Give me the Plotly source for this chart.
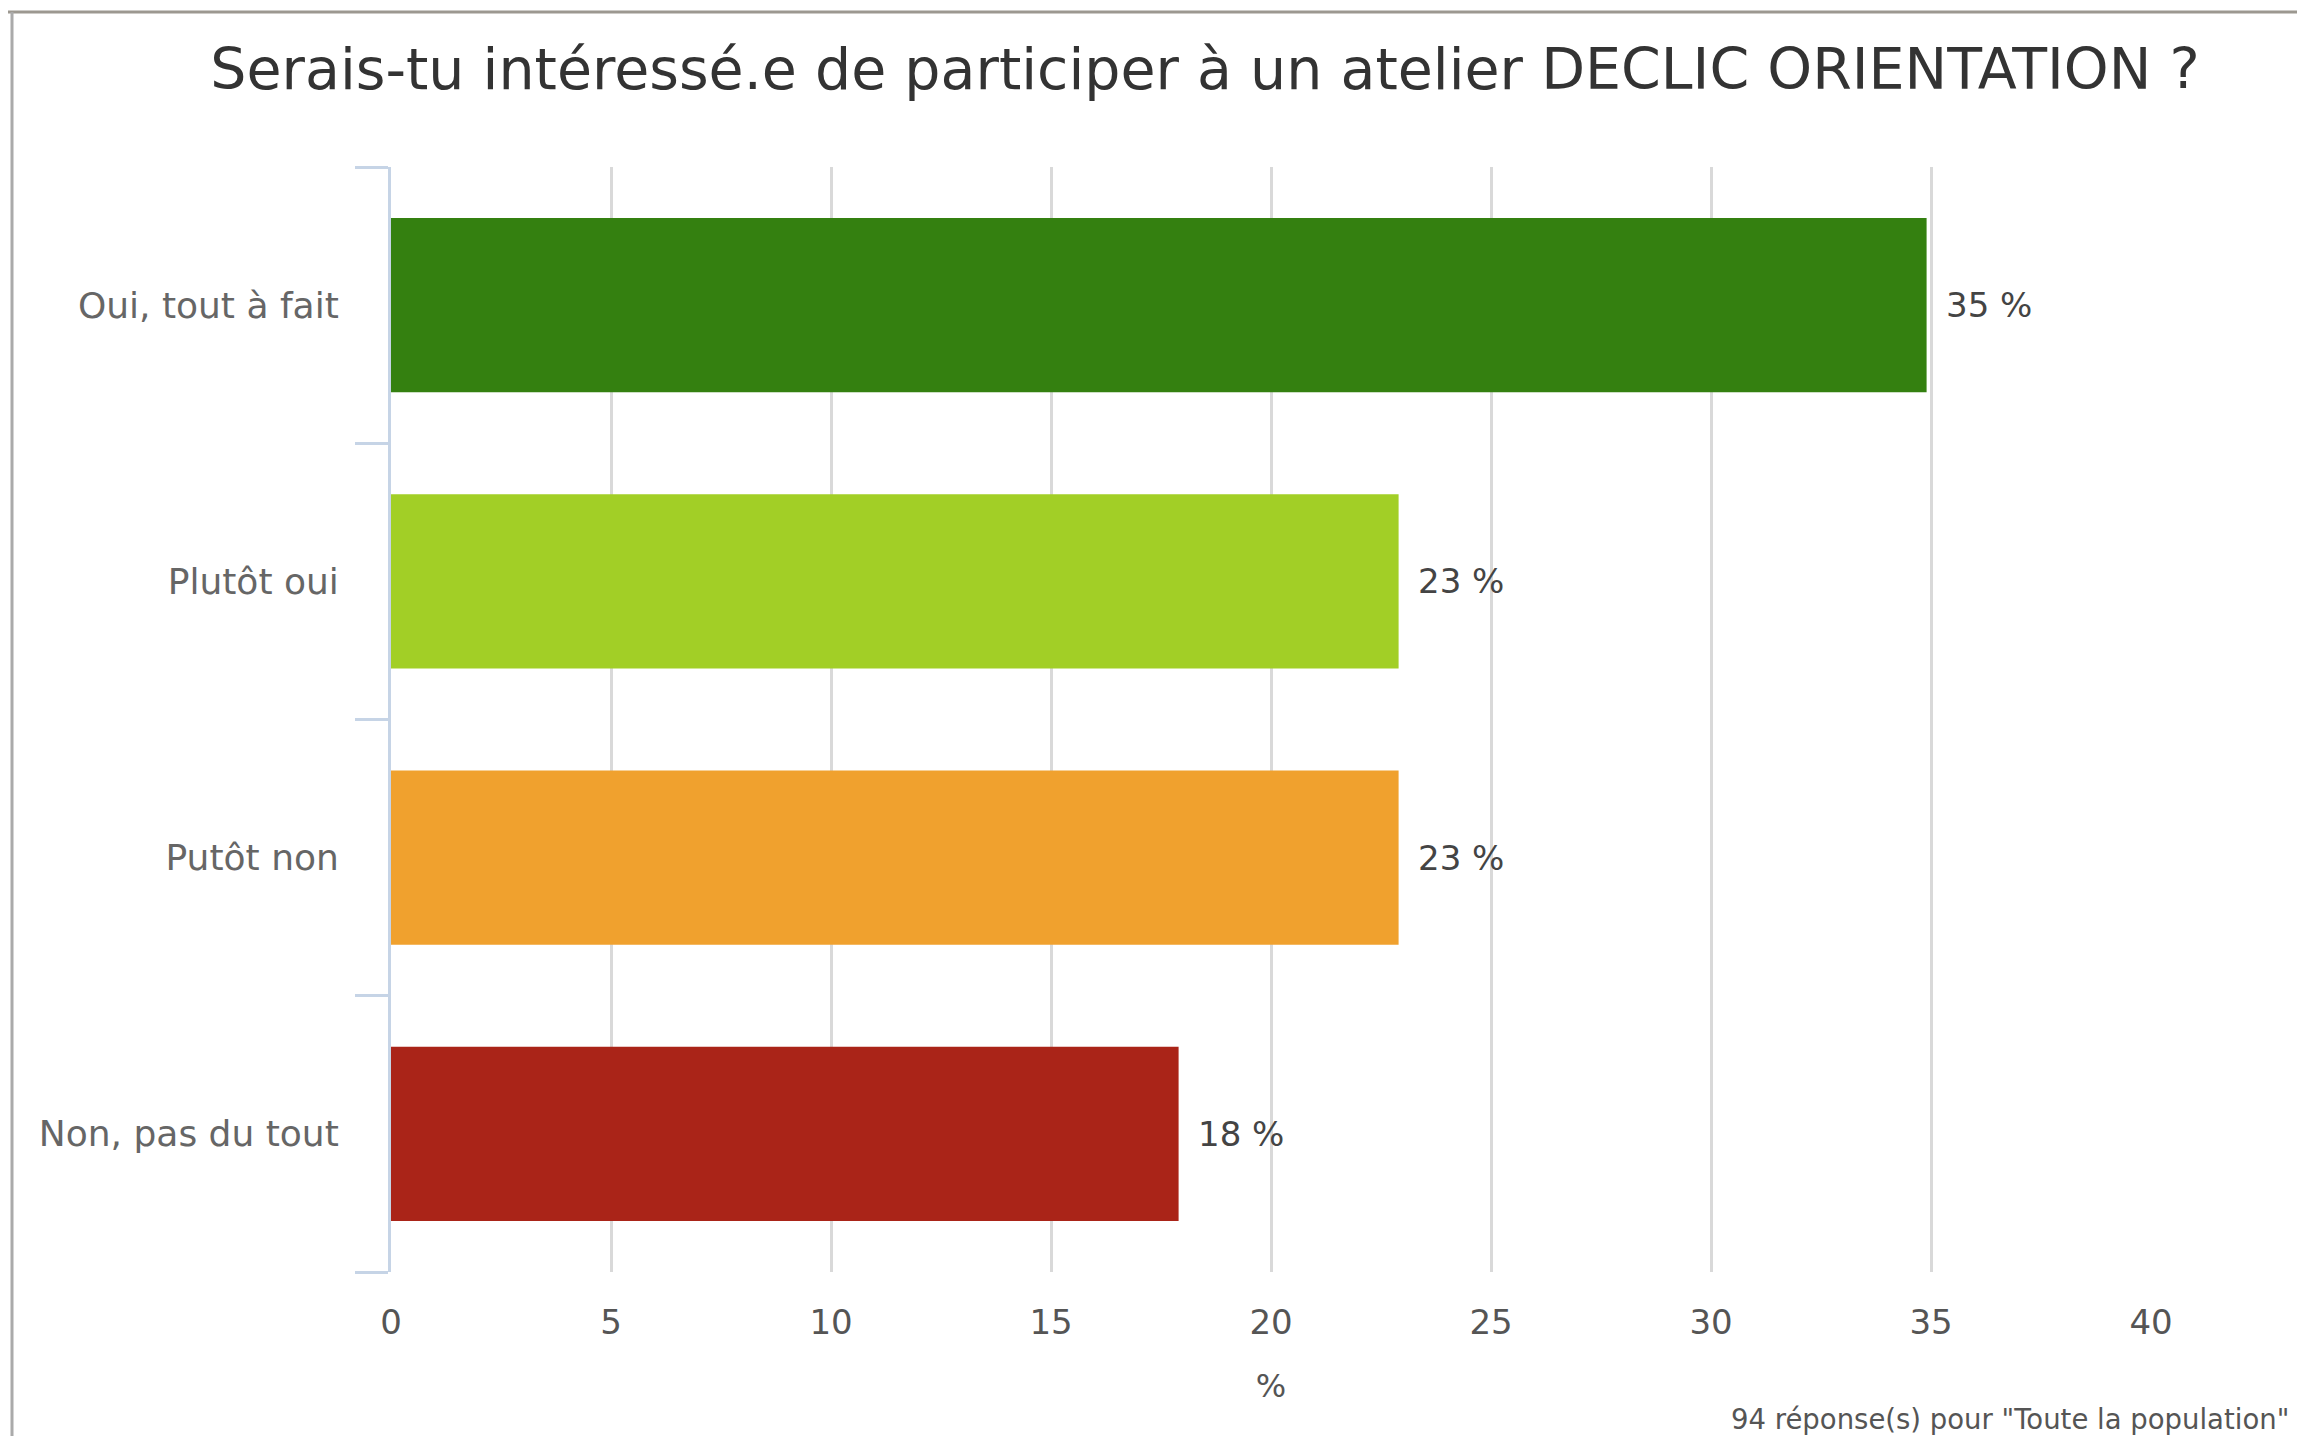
import plotly.graph_objects as go

categories = ["Oui, tout à fait", "Plutôt oui", "Putôt non", "Non, pas du tout"]
values = [34.9, 22.9, 22.9, 17.9]
labels = ["35 %", "23 %", "23 %", "18 %"]
colors = ["#348010", "#a2cf26", "#f0a12e", "#aa2418"]
x_ticks = [0, 5, 10, 15, 20, 25, 30, 35, 40]

# page offset (default body margin of the html page)
OFF = 8
W, H = 2305 - 2 * OFF, 1444 - 2 * OFF
L, R, T, B = 391 - OFF, 2151 - OFF, 167 - OFF, 1272 - OFF
pw, ph = R - L, B - T

def px(x):
    return (x - OFF - L) / pw

def py(y):
    return (B - (y - OFF)) / ph

fig = go.Figure()
fig.add_trace(go.Bar(
    y=categories, x=values, orientation="h",
    marker=dict(color=colors, line=dict(width=0)),
    hoverinfo="skip",
))

annotations = []
for c, v, t in zip(categories, values, labels):
    annotations.append(dict(
        x=v, y=c, xref="x", yref="y", text=t, showarrow=False,
        xanchor="left", yanchor="middle", xshift=17,
        font=dict(family="DejaVu Sans", size=34, color="#444444"),
    ))
annotations.append(dict(
    x=px(2291), y=py(1419), xref="paper", yref="paper",
    text='94 réponse(s) pour "Toute la population"', showarrow=False,
    xanchor="right", yanchor="middle",
    font=dict(family="DejaVu Sans", size=27.5, color="#555555"),
))

fig.update_layout(
    width=W, height=H,
    margin=dict(l=L, r=W - R, t=T, b=H - B, pad=0),
    paper_bgcolor="white", plot_bgcolor="white",
    showlegend=False,
    bargap=0.37,
    title=dict(
        text="Serais-tu intéressé.e de participer à un atelier DECLIC ORIENTATION ?",
        x=(1205 - OFF) / W, xanchor="center", xref="container",
        y=1 - (69 - OFF) / H, yanchor="middle", yref="container",
        font=dict(family="DejaVu Sans", size=57, color="#333333"),
    ),
    xaxis=dict(
        range=[0, 40], tickvals=x_ticks, ticktext=[str(v) for v in x_ticks],
        showgrid=True, gridcolor="#d9d9d9", gridwidth=3,
        zeroline=False, showline=False,
        ticks="outside", ticklen=20, tickcolor="rgba(0,0,0,0)",
        tickfont=dict(family="DejaVu Sans", size=34, color="#555555"),
        title=dict(text="%", standoff=33,
                   font=dict(family="DejaVu Sans", size=32, color="#555555")),
    ),
    yaxis=dict(
        categoryorder="array", categoryarray=categories[::-1],
        range=[-0.5, 3.5],
        showgrid=False, zeroline=False,
        showline=True, linecolor="#c6d4e6", linewidth=3,
        ticks="outside", ticklen=33, tickwidth=3, tickcolor="#c6d4e6",
        tickson="boundaries", ticklabelstandoff=42,
        tickfont=dict(family="DejaVu Sans", size=36, color="#666666"),
    ),
    annotations=annotations,
    shapes=[
        dict(type="line", xref="paper", yref="paper",
             x0=px(0), x1=px(2400), y0=py(12), y1=py(12),
             line=dict(color="#9c9890", width=3)),
        dict(type="line", xref="paper", yref="paper",
             x0=px(12), x1=px(12), y0=py(12), y1=py(1500),
             line=dict(color="#aaaaaa", width=3)),
    ],
)

fig.write_html("out.html")
